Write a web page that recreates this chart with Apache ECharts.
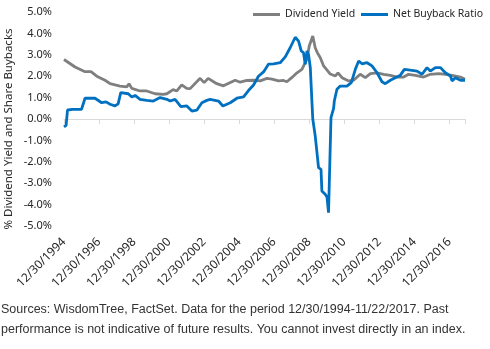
<!DOCTYPE html>
<html>
<head>
<meta charset="utf-8">
<script src="https://cdn.jsdelivr.net/npm/echarts@6/dist/echarts.min.js"></script>
<style>
  html, body { margin: 0; padding: 0; background: #fff; }
  #chart { width: 490px; height: 349px; }
</style>
</head>
<body>
<div id="chart"></div>
<script>
// dates as decimal years (1995.0 ~ 12/30/1994)
var yieldDates = [1995.0, 1995.63, 1996.2, 1996.54, 1996.87, 1997.34, 1997.63, 1998.2, 1998.58, 1998.71,
  1998.87, 1999.34, 1999.72, 2000.2, 2000.67, 2000.87, 2001.23, 2001.44, 2001.72, 2002.0,
  2002.2, 2002.77, 2003.0, 2003.23, 2003.72, 2004.1, 2004.77, 2005.06, 2005.44, 2005.82,
  2006.2, 2006.58, 2006.87, 2007.25, 2007.53, 2007.72, 2008.0, 2008.3, 2008.58, 2008.67,
  2008.87, 2009.0, 2009.2, 2009.34, 2009.46, 2009.63, 2009.82, 2009.91, 2010.2, 2010.49,
  2010.64, 2010.87, 2011.25, 2011.53, 2011.91, 2012.2, 2012.49, 2012.87, 2013.25, 2013.63,
  2014.01, 2014.39, 2014.67, 2015.06, 2015.53, 2015.91, 2016.39, 2016.77, 2017.15, 2017.63, 2017.89];
var yieldValues = [2.78, 2.43, 2.21, 2.21, 2.0, 1.81, 1.65, 1.54, 1.5, 1.65,
  1.43, 1.31, 1.31, 1.18, 1.15, 1.18, 1.37, 1.31, 1.59, 1.43,
  1.42, 1.9, 1.7, 1.9, 1.65, 1.55, 1.81, 1.72, 1.8, 1.81,
  1.78, 1.9, 1.86, 1.78, 1.8, 1.74, 1.93, 2.16, 2.32, 2.4,
  2.8, 3.41, 3.88, 3.33, 3.1, 2.86, 2.48, 2.4, 2.1, 2.01,
  2.16, 1.93, 1.78, 1.81, 2.09, 1.93, 2.12, 2.16, 2.09, 2.04,
  1.96, 1.96, 2.09, 2.04, 1.96, 2.09, 2.12, 2.09, 2.04, 1.96, 1.86];

var buybackDates = [1995.0, 1995.12, 1995.2, 1995.5, 1996.0, 1996.2, 1996.77, 1997.15, 1997.4, 1997.63,
  1997.91, 1998.09, 1998.24, 1998.67, 1998.87, 1999.06, 1999.34, 1999.73, 2000.1, 2000.49,
  2000.87, 2001.06, 2001.34, 2001.67, 2002.01, 2002.3, 2002.58, 2002.87, 2003.15, 2003.34,
  2003.82, 2004.07, 2004.49, 2004.87, 2005.25, 2005.53, 2005.82, 2006.1, 2006.39, 2006.67,
  2006.96, 2007.34, 2007.63, 2007.91, 2008.2, 2008.39, 2008.54, 2008.67, 2008.77, 2008.87,
  2008.96, 2009.06, 2009.15, 2009.2, 2009.34, 2009.53, 2009.67, 2009.72, 2009.91, 2010.01,
  2010.1, 2010.24, 2010.39, 2010.43, 2010.58, 2010.77, 2011.15, 2011.4, 2011.63, 2011.82,
  2012.01, 2012.3, 2012.58, 2012.87, 2013.15, 2013.34, 2013.63, 2013.91, 2014.2, 2014.43,
  2014.77, 2015.15, 2015.44, 2015.72, 2015.91, 2016.2, 2016.49, 2016.77, 2017.06, 2017.15,
  2017.34, 2017.63, 2017.89];
var buybackValues = [-0.37, -0.3, 0.42, 0.45, 0.45, 0.97, 0.97, 0.76, 0.8, 0.69,
  0.61, 0.71, 1.23, 1.18, 1.03, 1.1, 0.92, 0.87, 0.84, 1.0,
  0.92, 0.84, 0.92, 0.58, 0.61, 0.37, 0.41, 0.76, 0.87, 0.92,
  0.84, 0.61, 0.76, 0.97, 1.03, 1.33, 1.59, 2.0, 2.2, 2.56,
  2.58, 2.63, 2.9, 3.33, 3.82, 3.64, 3.18, 3.1, 2.56, 3.18,
  3.0, 2.4, 0.84, 0.0, -0.79, -2.27, -2.35, -3.36, -3.52, -3.64,
  -4.38, 0.06, 0.5, 0.84, 1.39, 1.54, 1.54, 1.7, 2.32, 2.71,
  2.58, 2.63, 2.48, 2.16, 1.74, 1.65, 1.81, 1.93, 2.05, 2.32,
  2.28, 2.24, 2.09, 2.4, 2.24, 2.4, 2.4, 2.16, 2.01, 1.78,
  1.93, 1.81, 1.81];

var startYear = 1995;      // 12/30/1994
var endYear = 2017.89;     // 11/22/2017
var fontName = '"Noto Sans", sans-serif';
var textColor = '#262626';

function pairs(dates, values) {
  return dates.map(function (d, i) { return [d - startYear, values[i]]; });
}

// one legend block per series, so the row never wraps
function legendBlock(name, left) {
  return {
    left: left,
    top: 9,
    padding: 0,
    itemWidth: 27,
    itemHeight: 3,
    icon: 'rect',
    textStyle: { fontFamily: fontName, fontSize: 10.5, color: textColor },
    data: [name]
  };
}

var myChart = echarts.init(document.getElementById('chart'));
var option = {
  animation: false,
  grid: { left: 64, right: 25, top: 12, bottom: 123 },
  legend: [
    legendBlock('Dividend Yield', 253),
    legendBlock('Net Buyback Ratio', 361)
  ],
  xAxis: [
    {
      // labels at the bottom
      type: 'value',
      position: 'bottom',
      min: 0,
      max: endYear - startYear,
      interval: 2,
      axisLine: { show: false, onZero: false },
      axisTick: { show: false },
      splitLine: { show: false },
      axisLabel: {
        rotate: 45,
        margin: 14,
        showMaxLabel: false,
        fontFamily: fontName,
        fontSize: 12,
        color: textColor,
        formatter: function (v) {
          return v % 2 === 0 ? '12/30/' + (1994 + v) : '';
        }
      }
    },
    {
      // zero line with ticks
      type: 'value',
      position: 'top',
      min: 0,
      max: endYear - startYear,
      interval: 2,
      axisLine: { show: true, onZero: true, lineStyle: { color: '#d9d9d9', width: 1 } },
      axisTick: { show: true, inside: true, length: 5, lineStyle: { color: '#d9d9d9' } },
      axisLabel: { show: false },
      splitLine: { show: false }
    }
  ],
  yAxis: {
    type: 'value',
    min: -5,
    max: 5,
    interval: 1,
    axisLine: { show: false },
    axisTick: { show: false },
    splitLine: { show: false },
    axisLabel: {
      margin: 12,
      fontFamily: fontName,
      fontSize: 11,
      color: textColor,
      formatter: function (v) { return v.toFixed(1) + '%'; }
    }
  },
  graphic: [
    {
      type: 'text',
      x: 9,
      y: 129,
      rotation: Math.PI / 2,
      style: {
        text: '% Dividend Yield and Share Buybacks',
        font: '11.5px "Noto Sans", sans-serif',
        fill: textColor,
        textAlign: 'center',
        textVerticalAlign: 'middle'
      }
    },
    {
      type: 'text',
      left: 1,
      top: 300,
      style: {
        text: 'Sources: WisdomTree, FactSet. Data for the period 12/30/1994-11/22/2017. Past\nperformance is not indicative of future results. You cannot invest directly in an index.',
        font: '12.5px "Liberation Sans", Arial, sans-serif',
        lineHeight: 20,
        fill: '#333333'
      }
    }
  ],
  series: [
    {
      name: 'Dividend Yield',
      type: 'line',
      xAxisIndex: 0,
      showSymbol: false,
      symbol: 'none',
      color: '#7f7f7f',
      lineStyle: { color: '#7f7f7f', width: 2.8 },
      data: pairs(yieldDates, yieldValues)
    },
    {
      name: 'Net Buyback Ratio',
      type: 'line',
      xAxisIndex: 0,
      showSymbol: false,
      symbol: 'none',
      color: '#0070c0',
      lineStyle: { color: '#0070c0', width: 2.8 },
      data: pairs(buybackDates, buybackValues)
    }
  ]
};
myChart.setOption(option);
</script>
</body>
</html>
